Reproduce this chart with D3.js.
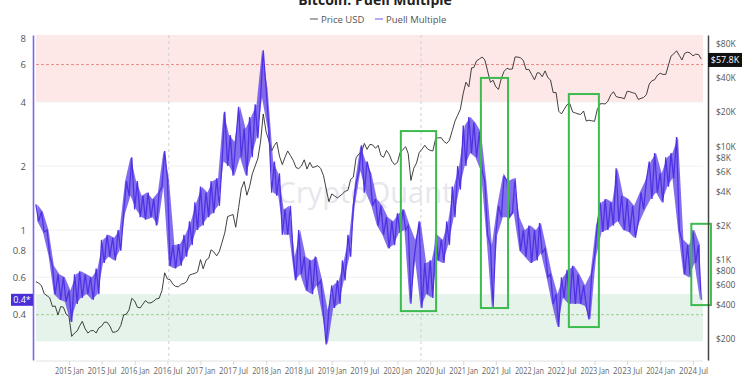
<!DOCTYPE html>
<html>
<head>
<meta charset="utf-8">
<script src="https://cdn.jsdelivr.net/npm/d3@7"></script>
<style>
body{margin:0;background:#fff;font-family:"Open Sans",sans-serif;}
svg{display:block;}
</style>
</head>
<body>
<div id="chart"></div>
<script>
// semi-monthly samples (1st and 16th) starting 2014 Jul
var startMonth="2014-07-01";

var puell=[
 1.32,1.10, 1.22,0.98, 1.00,0.76, 0.68,0.50, 0.62,0.47, 0.60,0.46,
 0.52,0.37, 0.62,0.45, 0.64,0.48, 0.62,0.50, 0.60,0.47, 0.66,0.50, 0.90,0.70, 0.95,0.75, 0.92,0.72, 1.00,0.80, 1.20,1.70, 1.45,2.20,
 1.25,1.70, 1.15,1.45, 1.12,1.50, 1.15,1.40, 1.05,1.50, 1.60,2.35, 1.75,0.68, 0.85,0.66, 0.86,0.68, 0.95,0.75, 1.10,0.85, 1.35,1.00,
 1.60,1.05, 1.50,1.15, 1.70,1.20, 1.75,1.30, 2.10,3.60, 2.00,2.80, 1.80,2.60, 3.80,2.20, 3.00,1.80, 3.40,2.20, 3.90,2.70, 4.20,7.00,
 4.60,3.00, 1.50,2.10, 1.45,1.85, 0.95,1.25, 0.95,1.30, 0.75,0.58, 1.00,0.62, 0.75,0.52, 0.72,0.50, 0.75,0.55, 0.58,0.40, 0.29,0.42,
 0.55,0.43, 0.58,0.45, 0.72,0.58, 0.95,0.75, 1.30,1.65, 1.90,2.50, 1.50,2.10, 1.85,1.30, 1.40,1.05, 1.30,0.95, 1.15,0.82, 1.10,0.85,
 1.20,0.97, 1.25,1.00, 1.05,0.45, 0.72,0.90, 1.10,0.43, 0.70,0.50, 0.72,0.48, 0.95,0.72, 0.90,0.70, 1.10,0.85, 1.60,1.15, 2.00,1.55,
 3.10,2.00, 3.40,2.30, 3.20,2.20, 2.90,1.90, 1.70,0.95, 0.85,0.43, 0.95,1.30, 1.15,1.80, 1.70,1.15, 1.20,1.75, 1.15,0.80, 1.00,0.75,
 1.05,0.70, 1.00,0.72, 1.08,0.78, 0.82,0.60, 0.62,0.45, 0.50,0.35, 0.60,0.48, 0.65,0.45, 0.68,0.45, 0.62,0.45, 0.55,0.44, 0.38,0.62,
 0.75,1.05, 1.35,0.98, 1.40,1.00, 1.35,1.05, 1.95,1.10, 1.45,1.00, 1.40,0.98, 1.30,0.92, 1.10,1.50, 1.25,1.70, 2.10,1.40, 2.30,1.50,
 1.85,1.35, 2.20,1.60, 2.30,1.75, 2.74,1.00, 0.90,0.62, 0.85,0.60, 1.00,0.70, 0.85,0.47
];

var price=[
 640,620, 590,500, 480,460, 385,390, 325,385, 380,330,
 315,210, 225,235, 260,285, 245,225, 235,237, 225,250, 258,280, 280,260, 228,230, 237,262, 325,330, 360,455,
 432,380, 375,405, 435,415, 415,430, 450,455, 535,765, 675,665, 605,580, 575,608, 615,640, 730,745, 755,780,
 1000,830, 990,1030, 1220,1170, 1080,1180, 1420,1720, 2400,2450, 2500,1930, 2870,4200, 4900,3700, 4400,5700, 6700,7800, 10900,19300,
 13400,11300, 9100,10200, 10900,8200, 6900,8000, 9100,8300, 7500,6500, 6350,6700, 7600,6300, 7200,6500, 6600,6750, 6350,5500, 4200,3250,
 3800,3650, 3500,3650, 3800,4000, 4100,5100, 5350,7900, 8600,8900, 10600,9400, 10400,10300, 9600,10200, 8300,8000, 9200,8500, 7400,6900,
 7200,8800, 9400,9900, 8600,5000, 6400,7100, 8800,9400, 10200,9500, 9200,9100, 11800,11900, 11900,11000, 10600,11300, 13800,16700, 18800,21300,
 29400,36800, 33500,49200, 49600,56800, 59000,61400, 57800,46400, 36700,38300, 33500,31800, 39900,45900, 48800,47800, 48100,61500, 61300,60300, 57200,47600,
 47700,43100, 38700,44500, 44400,41100, 46300,40400, 38500,29800, 29800,20400, 19300,21200, 23300,23900, 20100,19700, 19300,19100, 20500,16700, 17000,16800,
 16600,21100, 23700,23800, 23600,25000, 28400,30300, 27500,27000, 26800,26300, 30600,30300, 29700,29200, 25900,26500, 27000,28500, 35400,37900, 38700,42300,
 44200,43100, 43100,52100, 62400,65300, 69700,63400, 57800,66200, 67700,66600, 62700,65000, 64600,58900
];

var leftTicks=[8,6,4,2,1,0.8,0.6,0.4];
var rightTicks=[80000,40000,20000,10000,8000,6000,4000,2000,1000,800,600,400,200];
var xTicks=["2015-01","2015-07","2016-01","2016-07","2017-01","2017-07","2018-01","2018-07","2019-01","2019-07",
 "2020-01","2020-07","2021-01","2021-07","2022-01","2022-07","2023-01","2023-07","2024-01","2024-07"];
var halvings=["2016-07-09","2020-05-11"];
// highlighted periods: start, end, puell top, puell bottom
var boxes=[
 ["2020-01-20","2020-08-03",2.92,0.416],
 ["2021-04-09","2021-09-07",5.19,0.43],
 ["2022-08-11","2023-01-25",4.36,0.35],
 ["2024-06-22","2024-10-09",1.07,0.444]
];
var lastPuell="0.4*";
var lastPrice="$57.8K";

var width=750,height=375;
var margin={top:35,right:45,bottom:15,left:35};
var font='"Open Sans",sans-serif';

var parse=d3.timeParse("%Y-%m-%d");
var parseM=d3.timeParse("%Y-%m");
var start=parse(startMonth);
function dateAt(i){
	var d=d3.timeMonth.offset(start,Math.floor(i/2));
	if(i%2) d=d3.timeDay.offset(d,15);
	return d;
}

var svg=d3.select('#chart')
		.append('svg')
		.attr('width',width)
		.attr('height',height);

var x=d3.scaleTime()
		.domain([parse("2014-06-26"),parse("2024-09-06")])
		.range([margin.left,width-margin.right]);
var y=d3.scaleLog()
		.domain([0.245,8.26])
		.range([height-margin.bottom,margin.top]);
var y2=d3.scaleLog()
		.domain([130,96000])
		.range([height-margin.bottom,margin.top]);

var x0=margin.left+1,x1=width-margin.right-2;

// zones
svg.append('rect')
	.attr('x',x0).attr('width',x1-x0)
	.attr('y',y(8.26)).attr('height',y(4)-y(8.26))
	.attr('fill','#fde8e7');
svg.append('rect')
	.attr('x',x0).attr('width',x1-x0)
	.attr('y',y(0.5)).attr('height',y(0.3)-y(0.5))
	.attr('fill','#e6f3ea');

// grid
svg.selectAll('.grid')
	.data(leftTicks)
	.enter()
	.append('line')
	.attr('x1',x0).attr('x2',x1)
	.attr('y1',function(d){return y(d)})
	.attr('y2',function(d){return y(d)})
	.attr('stroke','#f1f1f1');

svg.append('line')
	.attr('x1',x0).attr('x2',x1)
	.attr('y1',y(6)).attr('y2',y(6))
	.attr('stroke','#f08a84').attr('stroke-dasharray','3,2');
svg.append('line')
	.attr('x1',x0).attr('x2',x1)
	.attr('y1',y(0.4)).attr('y2',y(0.4))
	.attr('stroke','#8fd08f').attr('stroke-dasharray','3,2');

svg.selectAll('.halving')
	.data(halvings)
	.enter()
	.append('line')
	.attr('x1',function(d){return x(parse(d))})
	.attr('x2',function(d){return x(parse(d))})
	.attr('y1',margin.top).attr('y2',height-margin.bottom)
	.attr('stroke','#cfcfcf').attr('stroke-dasharray','3,3');

// watermark
svg.append('text')
	.attr('x',365).attr('y',203)
	.attr('text-anchor','middle')
	.style('font-size','29px')
	.attr('fill','#e6e6ec')
	.text('CryptoQuant');

// price line
var priceLine=d3.line()
		.x(function(d,i){return x(dateAt(i))})
		.y(function(d){return y2(d)});
svg.append('path')
	.datum(price)
	.attr('d',priceLine)
	.attr('fill','none')
	.attr('stroke','#2b2b2b')
	.attr('stroke-width',0.9);

// puell: monthly min/max band from each pair, then the zigzag on top
var months=d3.range(puell.length/2).map(function(k){
	var a=puell[2*k],b=puell[2*k+1];
	return {d:d3.timeDay.offset(dateAt(2*k),8),lo:Math.min(a,b),hi:Math.max(a,b)};
});
var band=d3.area()
		.x(function(d){return x(d.d)})
		.y0(function(d){return y(d.lo)})
		.y1(function(d){return y(d.hi)});
svg.append('path')
	.datum(months)
	.attr('d',band)
	.attr('fill','#5a3ee8')
	.attr('opacity',0.75);

var puellLine=d3.line()
		.x(function(d,i){return x(dateAt(i))})
		.y(function(d){return y(d)});
svg.append('path')
	.datum(puell)
	.attr('d',puellLine)
	.attr('fill','none')
	.attr('stroke','#4f32e4')
	.attr('stroke-width',1.3);

// annotation boxes
svg.selectAll('.box')
	.data(boxes)
	.enter()
	.append('rect')
	.attr('x',function(d){return x(parse(d[0]))})
	.attr('width',function(d){return x(parse(d[1]))-x(parse(d[0]))})
	.attr('y',function(d){return y(d[2])})
	.attr('height',function(d){return y(d[3])-y(d[2])})
	.attr('fill','none')
	.attr('stroke','#3dbb4f')
	.attr('stroke-width',2);

// x axis
svg.append('line')
	.attr('x1',x0).attr('x2',x1)
	.attr('y1',height-margin.bottom+1).attr('y2',height-margin.bottom+1)
	.attr('stroke','#e2e2e2');
var xAxis=d3.axisBottom()
		.scale(x)
		.tickValues(xTicks.map(function(d){return parseM(d)}))
		.tickFormat(d3.timeFormat("%Y %b"))
		.tickSize(4)
		.tickPadding(3);
var gx=svg.append('g')
	.attr('transform','translate(0,'+(height-margin.bottom+1)+')')
	.call(xAxis);
gx.select('.domain').remove();
gx.selectAll('line').attr('stroke','#d8d8d8');
gx.selectAll('text')
	.attr('fill','#666')
	.attr('textLength',29)
	.attr('lengthAdjust','spacingAndGlyphs')
	.style('font-size','8.3px')
	.style('font-family',font);

// left axis
var yAxis=d3.axisLeft()
		.scale(y)
		.tickValues(leftTicks)
		.tickFormat(function(d){return d})
		.tickSize(0)
		.tickPadding(7);
var gy=svg.append('g')
	.attr('transform','translate(33,0)')
	.call(yAxis);
gy.select('.domain').attr('stroke','#7b68ee').attr('stroke-width',1.6);
gy.selectAll('text').attr('fill','#555').style('font-size','9.5px').style('font-family',font);

svg.append('rect')
	.attr('x',11).attr('width',22)
	.attr('y',y(0.47)-6).attr('height',12)
	.attr('fill','#4a2fd6');
svg.append('text')
	.attr('x',22).attr('y',y(0.47)+3.5)
	.attr('text-anchor','middle')
	.attr('fill','#fff')
	.style('font-size','9px')
	.text(lastPuell);

// right axis
var yAxis2=d3.axisRight()
		.scale(y2)
		.tickValues(rightTicks)
		.tickFormat(function(d){return d>=1000?'$'+(d/1000)+'K':'$'+d})
		.tickSize(0)
		.tickPadding(8);
var gy2=svg.append('g')
	.attr('transform','translate(708,0)')
	.call(yAxis2);
gy2.select('.domain').attr('stroke','#444').attr('stroke-width',1.5);
gy2.selectAll('text').attr('fill','#555').style('font-size','8.5px').style('font-family',font);

svg.append('rect')
	.attr('x',708).attr('width',34)
	.attr('y',y2(57800)-7).attr('height',14)
	.attr('fill','#111');
svg.append('text')
	.attr('x',725).attr('y',y2(57800)+3.5)
	.attr('text-anchor','middle')
	.attr('fill','#fff')
	.style('font-size','9px')
	.text(lastPrice);

// title and legend
svg.append('text')
	.attr('x',375).attr('y',5)
	.attr('text-anchor','middle')
	.style('font-size','14px')
	.style('font-weight','bold')
	.attr('fill','#222')
	.text('Bitcoin: Puell Multiple');

var legend=[["Price USD","#555",310],["Puell Multiple","#6a55f0",375]];
var lg=svg.selectAll('.lg')
	.data(legend)
	.enter()
	.append('g');
lg.append('line')
	.attr('x1',function(d){return d[2]})
	.attr('x2',function(d){return d[2]+8})
	.attr('y1',19).attr('y2',19)
	.attr('stroke',function(d){return d[1]});
lg.append('text')
	.attr('x',function(d){return d[2]+11})
	.attr('y',22.5)
	.attr('fill','#555')
	.style('font-size','9.5px')
	.text(function(d){return d[0]});
</script>
</body>
</html>
